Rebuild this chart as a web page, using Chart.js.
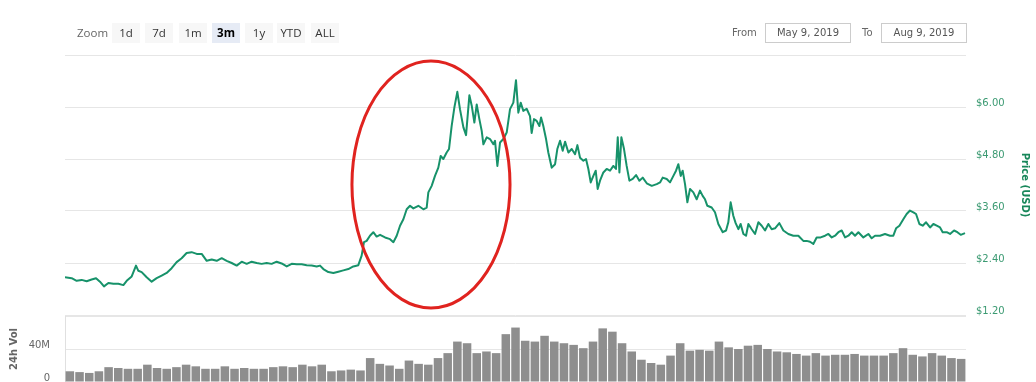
<!DOCTYPE html>
<html>
<head>
<meta charset="utf-8">
<script src="https://cdn.jsdelivr.net/npm/chart.js@4.4.1/dist/chart.umd.min.js"></script>
<style>
  html,body{margin:0;padding:0;background:#fff;}
  #wrap{position:relative;width:1036px;height:382px;overflow:hidden;}
  canvas{position:absolute;left:0;top:0;}
  .t{position:absolute;font-family:"Open Sans",sans-serif;font-size:11.5px;line-height:20px;}
  .btn{position:absolute;top:23px;height:20px;width:28px;background:#f7f7f7;color:#333;text-align:center;font-family:"Open Sans",sans-serif;font-size:11.5px;line-height:20px;}
  .sel{background:#e6ebf5;font-weight:bold;color:#000;}
  .lbl{position:absolute;top:23px;font-family:"DejaVu Sans",sans-serif;font-size:10px;line-height:20px;color:#666;}
  .inp{position:absolute;top:23px;height:18px;width:84px;border:1px solid #cccccc;font-family:"DejaVu Sans",sans-serif;font-size:10px;line-height:18px;color:#555;text-align:center;}
</style>
</head>
<body>
<div id="wrap">
  <canvas id="vol" width="1036" height="388"></canvas>
  <canvas id="price" width="1036" height="382"></canvas>
  <div class="t" style="left:77px;top:23px;color:#666;">Zoom</div>
  <div class="btn" style="left:112px;">1d</div>
  <div class="btn" style="left:145px;">7d</div>
  <div class="btn" style="left:179px;">1m</div>
  <div class="btn sel" style="left:212px;">3m</div>
  <div class="btn" style="left:245px;">1y</div>
  <div class="btn" style="left:277px;">YTD</div>
  <div class="btn" style="left:311px;">ALL</div>
  <div class="lbl" style="left:732px;">From</div>
  <div class="inp" style="left:765px;">May 9, 2019</div>
  <div class="lbl" style="left:862px;">To</div>
  <div class="inp" style="left:881px;">Aug 9, 2019</div>
</div>
<script>
// ---- DATA ----
// days since May 9, 2019
const priceDays = [0,0.68,1.19,1.70,2.21,2.72,3.17,3.57,3.98,4.43,4.94,5.45,5.96,6.30,6.81,7.25,7.49,7.83,8.34,8.85,9.36,9.87,10.38,10.89,11.40,11.91,12.42,12.93,13.45,13.96,14.47,14.98,15.49,16.00,16.51,17.02,17.53,18.04,18.55,19.06,19.57,20.08,20.59,21.10,21.61,22.12,22.64,23.15,23.66,24.17,24.68,25.19,25.70,26.04,26.38,26.89,27.40,27.91,28.42,28.93,29.44,29.95,30.29,30.53,30.80,31.14,31.48,31.82,32.17,32.68,33.19,33.53,33.87,34.21,34.55,34.89,35.23,35.57,36.08,36.59,36.93,37.10,37.44,37.78,38.12,38.36,38.63,38.97,39.21,39.48,39.76,40.06,40.33,40.68,40.95,41.29,41.53,41.80,42.04,42.31,42.55,42.72,43.06,43.40,43.74,43.91,44.15,44.42,44.76,45.10,45.44,45.78,46.05,46.29,46.53,46.80,47.14,47.48,47.65,47.89,48.16,48.44,48.61,48.84,49.12,49.35,49.70,50.04,50.27,50.55,50.82,51.06,51.40,51.74,52.08,52.32,52.59,52.93,53.20,53.44,53.68,53.95,54.19,54.39,54.63,54.97,55.31,55.65,55.99,56.26,56.44,56.61,56.81,57.08,57.35,57.63,57.97,58.31,58.65,58.99,59.40,59.91,60.42,60.76,61.03,61.44,61.78,62.12,62.39,62.63,62.87,63.07,63.31,63.55,63.82,64.16,64.50,64.84,65.11,65.35,65.59,66.03,66.37,66.71,67.16,67.50,67.73,67.97,68.24,68.48,68.76,68.99,69.27,69.54,69.78,70.12,70.46,70.80,71.14,71.48,71.82,72.16,72.50,72.94,73.35,73.86,74.37,74.88,75.39,75.73,76.07,76.41,76.75,77.16,77.61,77.95,78.29,78.63,78.97,79.31,79.65,79.99,80.33,80.67,81.01,81.52,82.03,82.37,82.71,83.22,83.73,84.24,84.58,84.86,85.20,85.60,85.94,86.28,86.63,86.90,87.24,87.58,87.92,88.33,88.67,89.01,89.35,89.62,90.03,90.37,90.78,91.12,91.46,91.90];
const priceUSD = [2.07,2.05,1.99,2.01,1.98,2.02,2.05,1.97,1.86,1.94,1.92,1.92,1.89,1.99,2.09,2.34,2.22,2.19,2.07,1.97,2.05,2.11,2.17,2.28,2.42,2.51,2.63,2.65,2.61,2.61,2.45,2.48,2.45,2.51,2.45,2.40,2.34,2.43,2.38,2.43,2.40,2.38,2.40,2.38,2.43,2.39,2.32,2.38,2.37,2.37,2.35,2.34,2.32,2.34,2.26,2.19,2.17,2.20,2.23,2.26,2.32,2.35,2.57,2.88,2.91,3.03,3.11,3.01,3.05,2.99,2.95,2.88,3.03,3.26,3.41,3.64,3.72,3.66,3.72,3.64,3.68,4.03,4.18,4.41,4.60,4.87,4.80,4.95,5.03,5.56,5.99,6.35,5.95,5.53,5.35,6.27,6.03,5.64,6.06,5.72,5.45,5.14,5.30,5.26,5.14,5.22,4.64,5.18,5.26,5.41,5.95,6.10,6.62,5.87,6.10,5.91,5.96,5.79,5.40,5.72,5.68,5.56,5.76,5.56,5.26,4.95,4.60,4.68,5.03,5.22,4.99,5.20,4.95,5.03,4.91,5.12,4.83,4.76,4.80,4.57,4.26,4.41,4.53,4.11,4.30,4.49,4.57,4.53,4.64,4.57,5.30,4.49,5.30,5.03,4.64,4.30,4.34,4.43,4.30,4.37,4.24,4.18,4.22,4.26,4.37,4.34,4.26,4.41,4.53,4.68,4.41,4.53,4.22,3.80,4.11,4.03,3.87,4.07,3.95,3.87,3.72,3.68,3.57,3.30,3.11,3.15,3.34,3.80,3.49,3.32,3.18,3.30,3.07,3.03,3.30,3.18,3.07,3.34,3.26,3.15,3.30,3.18,3.20,3.32,3.15,3.07,3.03,3.03,2.91,2.91,2.89,2.84,2.99,2.99,3.03,3.07,2.99,3.03,3.11,3.15,2.99,3.03,3.11,3.03,3.11,2.99,3.07,2.97,3.03,3.03,3.07,3.03,3.03,3.20,3.26,3.41,3.53,3.61,3.57,3.53,3.30,3.26,3.34,3.22,3.30,3.26,3.22,3.11,3.11,3.07,3.15,3.11,3.05,3.09];
const priceTicks = [1.2, 2.4, 3.6, 4.8, 6.0, 7.2];
// daily 24h volume, millions USD (May 9 .. Aug 10)
const volumeM = [13,12,11,13,18,17,16,16,21,17,16,18,21,19,16,16,19,16,17,16,16,18,19,18,21,19,21,13,14,15,14,29,22,20,16,26,22,21,29,35,49,47,35,37,35,58,66,50,49,56,49,47,45,41,49,65,61,47,37,27,23,21,32,47,38,39,38,49,42,40,44,45,40,37,36,34,32,35,32,33,33,34,32,32,32,35,41,33,31,35,32,29,28];
const volumeTicks = [0, 40, 80];
// annotation ellipse (days, USD)
const ringCenterDay = 37.37, ringHalfDays = 8.07, ringCenterUSD = 4.21, ringHalfUSD = 2.85;

const startDate = new Date(2019, 4, 9);
const volumeDates = volumeM.map((_, i) => {
  const d = new Date(startDate.getTime() + i * 86400000);
  return d.toLocaleDateString('en-US', {month: 'short', day: 'numeric'});
});

Chart.defaults.font.family = '"DejaVu Sans", sans-serif';

const ringPlugin = {
  id: 'ring',
  afterDraw(chart) {
    const xs = chart.scales.x, ys = chart.scales.y, ctx = chart.ctx;
    const cx = xs.getPixelForValue(ringCenterDay);
    const rx = xs.getPixelForValue(ringCenterDay + ringHalfDays) - cx;
    const cy = ys.getPixelForValue(ringCenterUSD);
    const ry = ys.getPixelForValue(ringCenterUSD - ringHalfUSD) - cy;
    ctx.save();
    ctx.beginPath();
    ctx.ellipse(cx, cy, rx, ry, 0, 0, Math.PI * 2);
    ctx.strokeStyle = '#e0231f';
    ctx.lineWidth = 3;
    ctx.stroke();
    ctx.restore();
  }
};

new Chart(document.getElementById('price'), {
  type: 'line',
  data: {
    datasets: [{
      data: priceDays.map((d, i) => ({x: d, y: priceUSD[i]})),
      borderColor: '#17926a',
      borderWidth: 2,
      pointRadius: 0,
      tension: 0,
      borderJoinStyle: 'round'
    }]
  },
  options: {
    responsive: false,
    animation: false,
    devicePixelRatio: 1,
    layout: {padding: {left: 65, top: 55, right: 0, bottom: 67}},
    plugins: {legend: {display: false}, tooltip: {enabled: false}},
    scales: {
      x: {type: 'linear', min: 0, max: 92, display: false},
      y: {
        position: 'right',
        min: 1.2, max: 7.2,
        afterBuildTicks: s => { s.ticks = priceTicks.map(v => ({value: v})); },
        afterFit: s => { s.width = 70; },
        grid: {color: '#e6e6e6', drawTicks: false},
        border: {display: false},
        ticks: {
          padding: 10,
          labelOffset: -4,
          color: '#3b9a72',
          font: {size: 10},
          callback: v => (v >= 7.1 ? '' : '$' + v.toFixed(2))
        },
        title: {
          display: true,
          text: 'Price (USD)',
          color: '#18875a',
          font: {size: 10, weight: 'bold'},
          padding: {top: 5, bottom: 0}
        }
      }
    }
  },
  plugins: [ringPlugin]
});

new Chart(document.getElementById('vol'), {
  type: 'bar',
  data: {
    labels: volumeDates,
    datasets: [{
      data: volumeM,
      backgroundColor: '#8e8e8e',
      borderWidth: 0,
      barPercentage: 1,
      categoryPercentage: 0.88
    }]
  },
  options: {
    responsive: false,
    animation: false,
    devicePixelRatio: 1,
    layout: {padding: {left: 0, top: 316, right: 70, bottom: 6}},
    plugins: {legend: {display: false}, tooltip: {enabled: false}},
    scales: {
      x: {display: false},
      y: {
        position: 'left',
        min: 0, max: 80,
        afterBuildTicks: s => { s.ticks = volumeTicks.map(v => ({value: v})); },
        afterFit: s => { s.width = 65; },
        grid: {color: '#e6e6e6', drawTicks: true, tickLength: 15, tickColor: 'rgba(0,0,0,0)'},
        border: {display: true, color: '#e0e0e0'},
        ticks: {
          padding: 0,
          labelOffset: -4,
          color: '#666',
          font: {size: 10},
          callback: v => (v >= 80 ? '' : (v === 0 ? '0' : v + 'M'))
        },
        title: {
          display: true,
          text: '24h Vol',
          color: '#666',
          font: {size: 10, weight: 'bold'},
          padding: {top: 8, bottom: 0}
        }
      }
    }
  }
});
</script>
</body>
</html>
